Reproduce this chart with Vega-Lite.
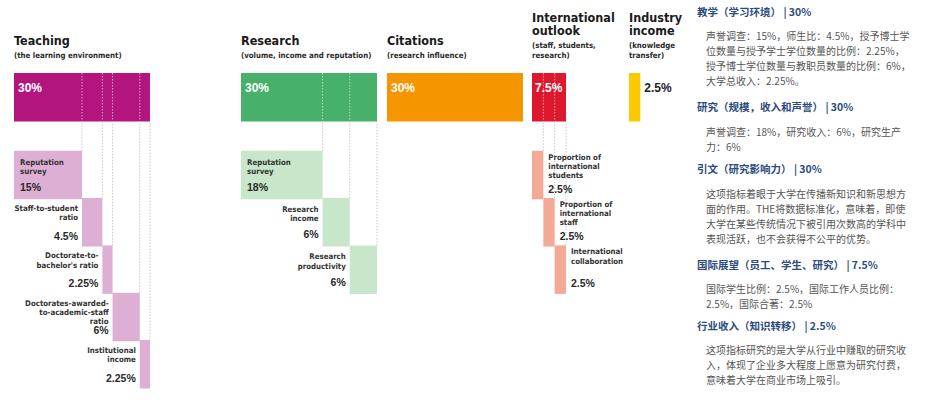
{
  "$schema": "https://vega.github.io/schema/vega-lite/v6.json",
  "padding": {"left": 14, "top": 5, "right": 0, "bottom": 0},
  "background": "white",
  "bounds": "flush",
  "spacing": 0,
  "config": {
    "view": {"stroke": null},
    "title": {
      "anchor": "start", "frame": "group",
      "font": "Liberation Sans Narrow, DejaVu Sans Condensed, Liberation Sans, sans-serif",
      "fontSize": 12.5, "fontWeight": "bold", "color": "#1a1a1a", "lineHeight": 12.6,
      "subtitleFont": "Liberation Sans Narrow, DejaVu Sans Condensed, Liberation Sans, sans-serif",
      "subtitleFontSize": 7.8, "subtitleFontWeight": "bold", "subtitleColor": "#2a2a2a",
      "subtitleLineHeight": 10, "subtitlePadding": 5, "offset": -55
    }
  },
  "datasets": {
    "bars": [
      {"group": "Teaching", "kind": "total", "level": 0, "name": "Teaching", "weight": 0.30},
      {"group": "Teaching", "kind": "part", "level": 1, "name": "Reputation\nsurvey", "weight": 0.15},
      {"group": "Teaching", "kind": "part", "level": 2, "name": "Staff-to-student\nratio", "weight": 0.045},
      {"group": "Teaching", "kind": "part", "level": 3, "name": "Doctorate-to-\nbachelor's ratio", "weight": 0.0225},
      {"group": "Teaching", "kind": "part", "level": 4, "name": "Doctorates-awarded-\nto-academic-staff\nratio", "weight": 0.06},
      {"group": "Teaching", "kind": "part", "level": 5, "name": "Institutional\nincome", "weight": 0.0225},
      {"group": "Research", "kind": "total", "level": 0, "name": "Research", "weight": 0.30},
      {"group": "Research", "kind": "part", "level": 1, "name": "Reputation\nsurvey", "weight": 0.18},
      {"group": "Research", "kind": "part", "level": 2, "name": "Research\nincome", "weight": 0.06},
      {"group": "Research", "kind": "part", "level": 3, "name": "Research\nproductivity", "weight": 0.06},
      {"group": "Citations", "kind": "total", "level": 0, "name": "Citations", "weight": 0.30},
      {"group": "International outlook", "kind": "total", "level": 0, "name": "International outlook", "weight": 0.075},
      {"group": "International outlook", "kind": "part", "level": 1, "name": "Proportion of\ninternational\nstudents", "weight": 0.025},
      {"group": "International outlook", "kind": "part", "level": 2, "name": "Proportion of\ninternational\nstaff", "weight": 0.025},
      {"group": "International outlook", "kind": "part", "level": 3, "name": "International\ncollaboration", "weight": 0.025},
      {"group": "Industry income", "kind": "total", "level": 0, "name": "Industry income", "weight": 0.025}
    ],
    "notes": [
      {"sec": 1, "line": 1, "text": "声誉调查：15%，师生比：4.5%，授予博士学"},
      {"sec": 1, "line": 2, "text": "位数量与授予学士学位数量的比例：2.25%，"},
      {"sec": 1, "line": 3, "text": "授予博士学位数量与教职员数量的比例：6%，"},
      {"sec": 1, "line": 4, "text": "大学总收入：2.25%。"},
      {"sec": 2, "line": 1, "text": "声誉调查：18%，研究收入：6%，研究生产"},
      {"sec": 2, "line": 2, "text": "力：6%"},
      {"sec": 3, "line": 1, "text": "这项指标着眼于大学在传播新知识和新思想方"},
      {"sec": 3, "line": 2, "text": "面的作用。THE将数据标准化，意味着，即使"},
      {"sec": 3, "line": 3, "text": "大学在某些传统情况下被引用次数高的学科中"},
      {"sec": 3, "line": 4, "text": "表现活跃，也不会获得不公平的优势。"},
      {"sec": 4, "line": 1, "text": "国际学生比例：2.5%，国际工作人员比例："},
      {"sec": 4, "line": 2, "text": "2.5%，国际合著：2.5%"},
      {"sec": 5, "line": 1, "text": "这项指标研究的是大学从行业中赚取的研究收"},
      {"sec": 5, "line": 2, "text": "入，体现了企业多大程度上愿意为研究付费，"},
      {"sec": 5, "line": 3, "text": "意味着大学在商业市场上吸引。"}
    ]
  },
  "hconcat": [
    {
      "width": 227, "height": 402,
      "title": {"text": "Teaching", "subtitle": "(the learning environment)"},
      "data": {"name": "bars"},
      "transform": [
        {"filter": "datum.group === 'Teaching'"},
        {"stack": "weight", "groupby": ["kind"], "sort": [{"field": "level", "order": "ascending"}], "as": ["start", "end"]}
      ],
      "encoding": {
        "x": {"field": "start", "type": "quantitative", "axis": null, "scale": {"domain": [0, 0.5008], "nice": false, "zero": false}},
        "y": {"field": "level", "type": "quantitative", "axis": null, "scale": {"domain": [-2.4897, 5.799], "reverse": true, "nice": false, "zero": false}}
      },
      "layer": [
        {"transform": [{"filter": "datum.kind === 'part'"}],
         "mark": {"type": "rule", "color": "#c8c8c8", "strokeDash": [1.5, 1.5], "strokeWidth": 1, "yOffset": -24.25, "y2Offset": -6.25},
         "encoding": {"x": {"field": "end", "type": "quantitative"}, "y2": {"datum": 0}}},
        {"transform": [{"filter": "datum.kind === 'total'"}],
         "mark": {"type": "bar", "orient": "horizontal", "height": 48.5, "color": "#b3157f", "yOffset": -30.5},
         "encoding": {"x2": {"field": "end"}}},
        {"transform": [{"filter": "datum.kind === 'part' && datum.level < 5"}],
         "mark": {"type": "rule", "color": "#ffffff", "opacity": 0.6, "strokeDash": [1.5, 1.5], "strokeWidth": 1, "yOffset": -54.75, "y2Offset": -6.25},
         "encoding": {"x": {"field": "end", "type": "quantitative"}, "y": {"datum": 0}, "y2": {"datum": 0}}},
        {"transform": [{"filter": "datum.kind === 'part'"}],
         "mark": {"type": "bar", "orient": "horizontal", "height": 48.5, "color": "#ddafd4"},
         "encoding": {"x2": {"field": "end"}}},
        {"transform": [{"filter": "datum.kind === 'total'"}],
         "mark": {"type": "text", "align": "left", "baseline": "middle", "dx": 4, "dy": -39.75, "font": "Liberation Sans, Arial, sans-serif", "fontWeight": "bold", "fontSize": 12, "color": "#ffffff"},
         "encoding": {"text": {"field": "weight", "format": "~%"}}},
        {"transform": [{"filter": "datum.kind === 'part' && datum.level === 1"}],
         "mark": {"type": "text", "align": "left", "baseline": "top", "dx": 6, "dy": -16.25, "lineBreak": "\n", "lineHeight": 9.2, "font": "Liberation Sans Narrow, DejaVu Sans Condensed, Liberation Sans, sans-serif", "fontWeight": "bold", "fontSize": 7.8, "color": "#333333"},
         "encoding": {"text": {"field": "name"}}},
        {"transform": [{"filter": "datum.kind === 'part' && datum.level === 1"}],
         "mark": {"type": "text", "align": "left", "baseline": "middle", "dx": 6, "dy": 12.6, "font": "Liberation Sans, Arial, sans-serif", "fontWeight": "bold", "fontSize": 10.5, "color": "#2a2a2a"},
         "encoding": {"text": {"field": "weight", "format": "~%"}}},
        {"transform": [{"filter": "datum.kind === 'part' && datum.level > 1"}],
         "mark": {"type": "text", "align": "right", "baseline": "top", "dx": -4, "dy": -17.25, "lineBreak": "\n", "lineHeight": 9.2, "font": "Liberation Sans Narrow, DejaVu Sans Condensed, Liberation Sans, sans-serif", "fontWeight": "bold", "fontSize": 7.8, "color": "#333333"},
         "encoding": {"text": {"field": "name"}}},
        {"transform": [{"filter": "datum.kind === 'part' && datum.level > 1"}],
         "mark": {"type": "text", "align": "right", "baseline": "middle", "dx": -4, "dy": 14.5, "font": "Liberation Sans, Arial, sans-serif", "fontWeight": "bold", "fontSize": 10.5, "color": "#2a2a2a"},
         "encoding": {"text": {"field": "weight", "format": "~%"}}}
      ]
    },
    {
      "width": 146, "height": 402,
      "title": {"text": "Research", "subtitle": "(volume, income and reputation)"},
      "data": {"name": "bars"},
      "transform": [
        {"filter": "datum.group === 'Research'"},
        {"stack": "weight", "groupby": ["kind"], "sort": [{"field": "level", "order": "ascending"}], "as": ["start", "end"]}
      ],
      "encoding": {
        "x": {"field": "start", "type": "quantitative", "axis": null, "scale": {"domain": [0, 0.3221], "nice": false, "zero": false}},
        "y": {"field": "level", "type": "quantitative", "axis": null, "scale": {"domain": [-2.4897, 5.799], "reverse": true, "nice": false, "zero": false}}
      },
      "layer": [
        {"transform": [{"filter": "datum.kind === 'part'"}],
         "mark": {"type": "rule", "color": "#c8c8c8", "strokeDash": [1.5, 1.5], "strokeWidth": 1, "yOffset": -24.25, "y2Offset": -6.25},
         "encoding": {"x": {"field": "end", "type": "quantitative"}, "y2": {"datum": 0}}},
        {"transform": [{"filter": "datum.kind === 'total'"}],
         "mark": {"type": "bar", "orient": "horizontal", "height": 48.5, "color": "#47b06b", "yOffset": -30.5},
         "encoding": {"x2": {"field": "end"}}},
        {"transform": [{"filter": "datum.kind === 'part' && datum.level < 3"}],
         "mark": {"type": "rule", "color": "#ffffff", "opacity": 0.6, "strokeDash": [1.5, 1.5], "strokeWidth": 1, "yOffset": -54.75, "y2Offset": -6.25},
         "encoding": {"x": {"field": "end", "type": "quantitative"}, "y": {"datum": 0}, "y2": {"datum": 0}}},
        {"transform": [{"filter": "datum.kind === 'part'"}],
         "mark": {"type": "bar", "orient": "horizontal", "height": 48.5, "color": "#c8e6c9"},
         "encoding": {"x2": {"field": "end"}}},
        {"transform": [{"filter": "datum.kind === 'total'"}],
         "mark": {"type": "text", "align": "left", "baseline": "middle", "dx": 4, "dy": -39.75, "font": "Liberation Sans, Arial, sans-serif", "fontWeight": "bold", "fontSize": 12, "color": "#ffffff"},
         "encoding": {"text": {"field": "weight", "format": "~%"}}},
        {"transform": [{"filter": "datum.kind === 'part' && datum.level === 1"}],
         "mark": {"type": "text", "align": "left", "baseline": "top", "dx": 6, "dy": -16.25, "lineBreak": "\n", "lineHeight": 9.2, "font": "Liberation Sans Narrow, DejaVu Sans Condensed, Liberation Sans, sans-serif", "fontWeight": "bold", "fontSize": 7.8, "color": "#333333"},
         "encoding": {"text": {"field": "name"}}},
        {"transform": [{"filter": "datum.kind === 'part' && datum.level === 1"}],
         "mark": {"type": "text", "align": "left", "baseline": "middle", "dx": 6, "dy": 12.6, "font": "Liberation Sans, Arial, sans-serif", "fontWeight": "bold", "fontSize": 10.5, "color": "#2a2a2a"},
         "encoding": {"text": {"field": "weight", "format": "~%"}}},
        {"transform": [{"filter": "datum.kind === 'part' && datum.level > 1"}],
         "mark": {"type": "text", "align": "right", "baseline": "top", "dx": -4, "dy": -16.25, "lineBreak": "\n", "lineHeight": 9.2, "font": "Liberation Sans Narrow, DejaVu Sans Condensed, Liberation Sans, sans-serif", "fontWeight": "bold", "fontSize": 7.8, "color": "#333333"},
         "encoding": {"text": {"field": "name"}}},
        {"transform": [{"filter": "datum.kind === 'part' && datum.level > 1"}],
         "mark": {"type": "text", "align": "right", "baseline": "middle", "dx": -4, "dy": 13.1, "font": "Liberation Sans, Arial, sans-serif", "fontWeight": "bold", "fontSize": 10.5, "color": "#2a2a2a"},
         "encoding": {"text": {"field": "weight", "format": "~%"}}}
      ]
    },
    {
      "width": 145, "height": 402,
      "title": {"text": "Citations", "subtitle": "(research influence)"},
      "data": {"name": "bars"},
      "transform": [
        {"filter": "datum.group === 'Citations'"},
        {"stack": "weight", "groupby": ["kind"], "sort": [{"field": "level", "order": "ascending"}], "as": ["start", "end"]}
      ],
      "encoding": {
        "x": {"field": "start", "type": "quantitative", "axis": null, "scale": {"domain": [0, 0.3199], "nice": false, "zero": false}},
        "y": {"field": "level", "type": "quantitative", "axis": null, "scale": {"domain": [-2.4897, 5.799], "reverse": true, "nice": false, "zero": false}}
      },
      "layer": [
        {"mark": {"type": "bar", "orient": "horizontal", "height": 48.5, "color": "#f59600", "yOffset": -30.5},
         "encoding": {"x2": {"field": "end"}}},
        {"mark": {"type": "text", "align": "left", "baseline": "middle", "dx": 4, "dy": -39.75, "font": "Liberation Sans, Arial, sans-serif", "fontWeight": "bold", "fontSize": 12, "color": "#ffffff"},
         "encoding": {"text": {"field": "weight", "format": "~%"}}}
      ]
    },
    {
      "width": 97, "height": 402,
      "title": {"text": ["International", "outlook"], "subtitle": ["(staff, students,", "research)"]},
      "data": {"name": "bars"},
      "transform": [
        {"filter": "datum.group === 'International outlook'"},
        {"stack": "weight", "groupby": ["kind"], "sort": [{"field": "level", "order": "ascending"}], "as": ["start", "end"]}
      ],
      "encoding": {
        "x": {"field": "start", "type": "quantitative", "axis": null, "scale": {"domain": [0, 0.214], "nice": false, "zero": false}},
        "y": {"field": "level", "type": "quantitative", "axis": null, "scale": {"domain": [-2.4897, 5.799], "reverse": true, "nice": false, "zero": false}}
      },
      "layer": [
        {"transform": [{"filter": "datum.kind === 'part'"}],
         "mark": {"type": "rule", "color": "#c8c8c8", "strokeDash": [1.5, 1.5], "strokeWidth": 1, "yOffset": -24.25, "y2Offset": -6.25},
         "encoding": {"x": {"field": "end", "type": "quantitative"}, "y2": {"datum": 0}}},
        {"transform": [{"filter": "datum.kind === 'total'"}],
         "mark": {"type": "bar", "orient": "horizontal", "height": 48.5, "color": "#de182c", "yOffset": -30.5},
         "encoding": {"x2": {"field": "end"}}},
        {"transform": [{"filter": "datum.kind === 'part' && datum.level < 3"}],
         "mark": {"type": "rule", "color": "#ffffff", "opacity": 0.6, "strokeDash": [1.5, 1.5], "strokeWidth": 1, "yOffset": -54.75, "y2Offset": -6.25},
         "encoding": {"x": {"field": "end", "type": "quantitative"}, "y": {"datum": 0}, "y2": {"datum": 0}}},
        {"transform": [{"filter": "datum.kind === 'part'"}],
         "mark": {"type": "bar", "orient": "horizontal", "height": 48.5, "color": "#f4a896"},
         "encoding": {"x2": {"field": "end"}}},
        {"transform": [{"filter": "datum.kind === 'total'"}],
         "mark": {"type": "text", "align": "left", "baseline": "middle", "dx": 3, "dy": -39.75, "font": "Liberation Sans, Arial, sans-serif", "fontWeight": "bold", "fontSize": 12, "color": "#ffffff"},
         "encoding": {"text": {"field": "weight", "format": "~%"}}},
        {"transform": [{"filter": "datum.kind === 'part'"}],
         "mark": {"type": "text", "align": "left", "baseline": "top", "dx": 5, "dy": -21.25, "lineBreak": "\n", "lineHeight": 9.2, "font": "Liberation Sans Narrow, DejaVu Sans Condensed, Liberation Sans, sans-serif", "fontWeight": "bold", "fontSize": 7.8, "color": "#333333"},
         "encoding": {"x": {"field": "end", "type": "quantitative"}, "text": {"field": "name"}}},
        {"transform": [{"filter": "datum.kind === 'part'"}],
         "mark": {"type": "text", "align": "left", "baseline": "middle", "dx": 5, "dy": 14.5, "font": "Liberation Sans, Arial, sans-serif", "fontWeight": "bold", "fontSize": 10.5, "color": "#2a2a2a"},
         "encoding": {"x": {"field": "end", "type": "quantitative"}, "text": {"field": "weight", "format": "~%"}}}
      ]
    },
    {
      "width": 68, "height": 402,
      "title": {"text": ["Industry", "income"], "subtitle": ["(knowledge", "transfer)"]},
      "data": {"name": "bars"},
      "transform": [
        {"filter": "datum.group === 'Industry income'"},
        {"stack": "weight", "groupby": ["kind"], "sort": [{"field": "level", "order": "ascending"}], "as": ["start", "end"]}
      ],
      "encoding": {
        "x": {"field": "start", "type": "quantitative", "axis": null, "scale": {"domain": [0, 0.15], "nice": false, "zero": false}},
        "y": {"field": "level", "type": "quantitative", "axis": null, "scale": {"domain": [-2.4897, 5.799], "reverse": true, "nice": false, "zero": false}}
      },
      "layer": [
        {"mark": {"type": "bar", "orient": "horizontal", "height": 48.5, "color": "#fcc800", "yOffset": -30.5},
         "encoding": {"x2": {"field": "end"}}},
        {"mark": {"type": "text", "align": "left", "baseline": "middle", "dx": 4, "dy": -39.75, "font": "Liberation Sans, Arial, sans-serif", "fontWeight": "bold", "fontSize": 12, "color": "#222222"},
         "encoding": {"x": {"field": "end", "type": "quantitative"}, "text": {"field": "weight", "format": "~%"}}}
      ]
    },
    {
      "bounds": "full",
      "spacing": 8.75,
      "vconcat": [
        {
          "width": 228, "height": 88.25,
          "title": {"text": "教学（学习环境） | 30%", "font": "Noto Sans CJK SC", "fontSize": 10.5, "fontWeight": "bold", "color": "#2c4b7e", "offset": -13},
          "data": {"name": "notes"},
          "transform": [{"filter": "datum.sec === 1"}],
          "encoding": {
            "x": {"datum": 0, "type": "quantitative", "axis": null, "scale": {"domain": [0, 1], "nice": false, "zero": false}},
            "y": {"field": "line", "type": "quantitative", "axis": null, "scale": {"domain": [-1.1333, 4.75], "reverse": true, "nice": false, "zero": false}}
          },
          "layer": [
            {"transform": [{"aggregate": [{"op": "max", "field": "line", "as": "n"}]}],
             "mark": {"type": "rule", "color": "#3b5b8f", "strokeWidth": 2, "y2Offset": 11.25},
             "encoding": {"y": {"datum": 0}, "y2": {"field": "n"}}},
            {"transform": [{"aggregate": [{"op": "max", "field": "line", "as": "n"}]}],
             "mark": {"type": "rule", "color": "#3b5b8f", "strokeWidth": 2},
             "encoding": {"y": {"datum": 0}, "x2": {"datum": 0.1}}},
            {"mark": {"type": "text", "align": "left", "baseline": "middle", "dx": 9, "font": "Noto Sans CJK SC", "fontSize": 10, "color": "#555555"},
             "encoding": {"text": {"field": "text"}}}
          ]
        },
        {
          "width": 228, "height": 38,
          "title": {"text": "研究（规模，收入和声誉） | 30%", "font": "Noto Sans CJK SC", "fontSize": 10.5, "fontWeight": "bold", "color": "#2c4b7e", "offset": 4},
          "data": {"name": "notes"},
          "transform": [{"filter": "datum.sec === 2"}],
          "encoding": {
            "x": {"datum": 0, "type": "quantitative", "axis": null, "scale": {"domain": [0, 1], "nice": false, "zero": false}},
            "y": {"field": "line", "type": "quantitative", "axis": null, "scale": {"domain": [0, 2.533], "reverse": true, "nice": false, "zero": false}}
          },
          "layer": [
            {"transform": [{"aggregate": [{"op": "max", "field": "line", "as": "n"}]}],
             "mark": {"type": "rule", "color": "#3b5b8f", "strokeWidth": 2, "y2Offset": 8},
             "encoding": {"y": {"datum": 0}, "y2": {"field": "n"}}},
            {"transform": [{"aggregate": [{"op": "max", "field": "line", "as": "n"}]}],
             "mark": {"type": "rule", "color": "#3b5b8f", "strokeWidth": 2},
             "encoding": {"y": {"datum": 0}, "x2": {"datum": 0.1}}},
            {"mark": {"type": "text", "align": "left", "baseline": "middle", "dx": 9, "font": "Noto Sans CJK SC", "fontSize": 10, "color": "#555555"},
             "encoding": {"text": {"field": "text"}}}
          ]
        },
        {
          "width": 228, "height": 71.25,
          "title": {"text": "引文（研究影响力） | 30%", "font": "Noto Sans CJK SC", "fontSize": 10.5, "fontWeight": "bold", "color": "#2c4b7e", "offset": 4},
          "data": {"name": "notes"},
          "transform": [{"filter": "datum.sec === 3"}],
          "encoding": {
            "x": {"datum": 0, "type": "quantitative", "axis": null, "scale": {"domain": [0, 1], "nice": false, "zero": false}},
            "y": {"field": "line", "type": "quantitative", "axis": null, "scale": {"domain": [0, 4.75], "reverse": true, "nice": false, "zero": false}}
          },
          "layer": [
            {"transform": [{"aggregate": [{"op": "max", "field": "line", "as": "n"}]}],
             "mark": {"type": "rule", "color": "#3b5b8f", "strokeWidth": 2, "y2Offset": 11.25},
             "encoding": {"y": {"datum": 0}, "y2": {"field": "n"}}},
            {"transform": [{"aggregate": [{"op": "max", "field": "line", "as": "n"}]}],
             "mark": {"type": "rule", "color": "#3b5b8f", "strokeWidth": 2},
             "encoding": {"y": {"datum": 0}, "x2": {"datum": 0.1}}},
            {"mark": {"type": "text", "align": "left", "baseline": "middle", "dx": 9, "font": "Noto Sans CJK SC", "fontSize": 10, "color": "#555555"},
             "encoding": {"text": {"field": "text"}}}
          ]
        },
        {
          "width": 228, "height": 37,
          "title": {"text": "国际展望（员工、学生、研究） | 7.5%", "font": "Noto Sans CJK SC", "fontSize": 10.5, "fontWeight": "bold", "color": "#2c4b7e", "offset": 4},
          "data": {"name": "notes"},
          "transform": [{"filter": "datum.sec === 4"}],
          "encoding": {
            "x": {"datum": 0, "type": "quantitative", "axis": null, "scale": {"domain": [0, 1], "nice": false, "zero": false}},
            "y": {"field": "line", "type": "quantitative", "axis": null, "scale": {"domain": [0, 2.467], "reverse": true, "nice": false, "zero": false}}
          },
          "layer": [
            {"transform": [{"aggregate": [{"op": "max", "field": "line", "as": "n"}]}],
             "mark": {"type": "rule", "color": "#3b5b8f", "strokeWidth": 2, "y2Offset": 7},
             "encoding": {"y": {"datum": 0}, "y2": {"field": "n"}}},
            {"transform": [{"aggregate": [{"op": "max", "field": "line", "as": "n"}]}],
             "mark": {"type": "rule", "color": "#3b5b8f", "strokeWidth": 2},
             "encoding": {"y": {"datum": 0}, "x2": {"datum": 0.1}}},
            {"mark": {"type": "text", "align": "left", "baseline": "middle", "dx": 9, "font": "Noto Sans CJK SC", "fontSize": 10, "color": "#555555"},
             "encoding": {"text": {"field": "text"}}}
          ]
        },
        {
          "width": 228, "height": 56.25,
          "title": {"text": "行业收入（知识转移） | 2.5%", "font": "Noto Sans CJK SC", "fontSize": 10.5, "fontWeight": "bold", "color": "#2c4b7e", "offset": 4},
          "data": {"name": "notes"},
          "transform": [{"filter": "datum.sec === 5"}],
          "encoding": {
            "x": {"datum": 0, "type": "quantitative", "axis": null, "scale": {"domain": [0, 1], "nice": false, "zero": false}},
            "y": {"field": "line", "type": "quantitative", "axis": null, "scale": {"domain": [0, 3.75], "reverse": true, "nice": false, "zero": false}}
          },
          "layer": [
            {"transform": [{"aggregate": [{"op": "max", "field": "line", "as": "n"}]}],
             "mark": {"type": "rule", "color": "#3b5b8f", "strokeWidth": 2, "y2Offset": 11.25},
             "encoding": {"y": {"datum": 0}, "y2": {"field": "n"}}},
            {"transform": [{"aggregate": [{"op": "max", "field": "line", "as": "n"}]}],
             "mark": {"type": "rule", "color": "#3b5b8f", "strokeWidth": 2},
             "encoding": {"y": {"datum": 0}, "x2": {"datum": 0.1}}},
            {"mark": {"type": "text", "align": "left", "baseline": "middle", "dx": 9, "font": "Noto Sans CJK SC", "fontSize": 10, "color": "#555555"},
             "encoding": {"text": {"field": "text"}}}
          ]
        }
      ]
    }
  ]
}
